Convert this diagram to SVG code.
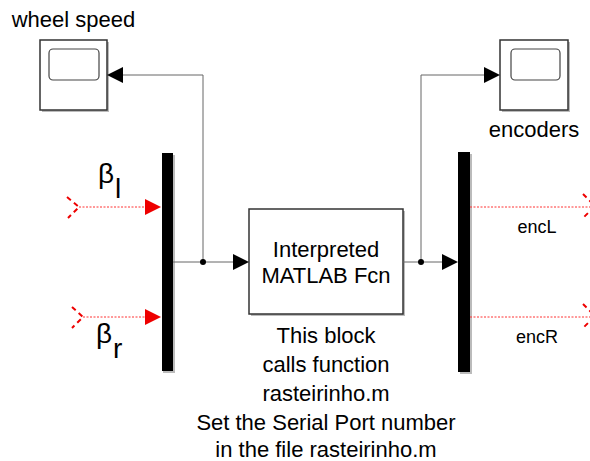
<svg xmlns="http://www.w3.org/2000/svg" width="590" height="461" viewBox="0 0 590 461">
<style>
text{font-family:"Liberation Sans",Arial,sans-serif;fill:#000}
.lbl{font-size:22px}
.sm{font-size:18px}
.beta{font-size:28px}
.box{fill:#fff;stroke:#333;stroke-width:1.5}
.shadow{fill:#bbb}
.scr{fill:#fff;stroke:#444;stroke-width:1.2}
.bar{fill:#000}
.wire{fill:none;stroke:#666;stroke-width:1}
.red{fill:none;stroke:#f33;stroke-width:1;stroke-dasharray:2,1.5}
.chev{fill:none;stroke:#e00;stroke-width:2;stroke-dasharray:5,4}
.arr{fill:#000}
.rarr{fill:#e00}
</style>
<g id="wheel_speed">
<rect class="shadow" x="42" y="42" width="67" height="70"/>
<rect class="box" x="40" y="40" width="67" height="70"/>
<rect class="scr" x="49" y="49" width="50" height="31" rx="4"/>
<text class="lbl" x="73.5" y="27" text-anchor="middle">wheel speed</text>
</g>
<g id="encoders">
<rect class="shadow" x="502" y="42" width="68" height="70"/>
<rect class="box" x="500" y="40" width="68" height="70"/>
<rect class="scr" x="511" y="49" width="49" height="31" rx="4"/>
<text class="lbl" x="534" y="137" text-anchor="middle">encoders</text>
</g>
<g id="mux_left">
<rect class="shadow" x="163" y="155" width="12" height="218"/>
<rect class="bar" x="162" y="153" width="11" height="218"/>
</g>
<g id="demux_right">
<rect class="shadow" x="460" y="154" width="12" height="220"/>
<rect class="bar" x="458" y="152" width="12" height="220"/>
</g>
<g id="fcn">
<rect class="shadow" x="251" y="211" width="154" height="105"/>
<rect class="box" x="249" y="209" width="154" height="105"/>
<text class="lbl" x="326" y="257" text-anchor="middle">Interpreted</text>
<text class="lbl" x="326" y="283" text-anchor="middle">MATLAB Fcn</text>
<text class="lbl" x="326" y="343" text-anchor="middle">This block</text>
<text class="lbl" x="326" y="372" text-anchor="middle">calls function</text>
<text class="lbl" x="326" y="400.5" text-anchor="middle">rasteirinho.m</text>
<text class="lbl" x="326" y="430" text-anchor="middle">Set the Serial Port number</text>
<text class="lbl" x="326" y="457" text-anchor="middle">in the file rasteirinho.m</text>
</g>
<g id="in_beta_l">
<path class="chev" d="M67,197 L79,207 L68,218"/>
<text class="beta" x="98" y="183">β</text>
<text class="beta" x="115" y="198">l</text>
</g>
<g id="in_beta_r">
<path class="chev" d="M72,307 L83,317 L72,328"/>
<text class="beta" x="96" y="343">β</text>
<text class="beta" x="113" y="358">r</text>
</g>
<g id="out_encL">
<path class="chev" d="M583,194 L595,206 L583,218"/>
<text class="sm" x="537" y="233" text-anchor="middle">encL</text>
</g>
<g id="out_encR">
<path class="chev" d="M583,304 L595,316 L583,328"/>
<text class="sm" x="537" y="343" text-anchor="middle">encR</text>
</g>
<g id="connectors">
<path class="red" d="M79,207 H146"/>
<polygon class="rarr" points="161,207 145,199 145,215"/>
<path class="red" d="M83,317 H146"/>
<polygon class="rarr" points="161,317 145,309 145,325"/>
<path class="red" d="M470,207 H590"/>
<path class="red" d="M470,317 H590"/>
<path class="wire" d="M173,262 H234"/>
<path class="wire" d="M203,262 V75 H123"/>
<circle cx="203" cy="262" r="3" fill="#000"/>
<polygon class="arr" points="249,262 233,254 233,270"/>
<polygon class="arr" points="107,75 123,67 123,83"/>
<path class="wire" d="M403,262 H443"/>
<path class="wire" d="M421,262 V75 H485"/>
<circle cx="421" cy="262" r="3" fill="#000"/>
<polygon class="arr" points="458,262 442,254 442,270"/>
<polygon class="arr" points="500,75 484,67 484,83"/>
</g>
</svg>
